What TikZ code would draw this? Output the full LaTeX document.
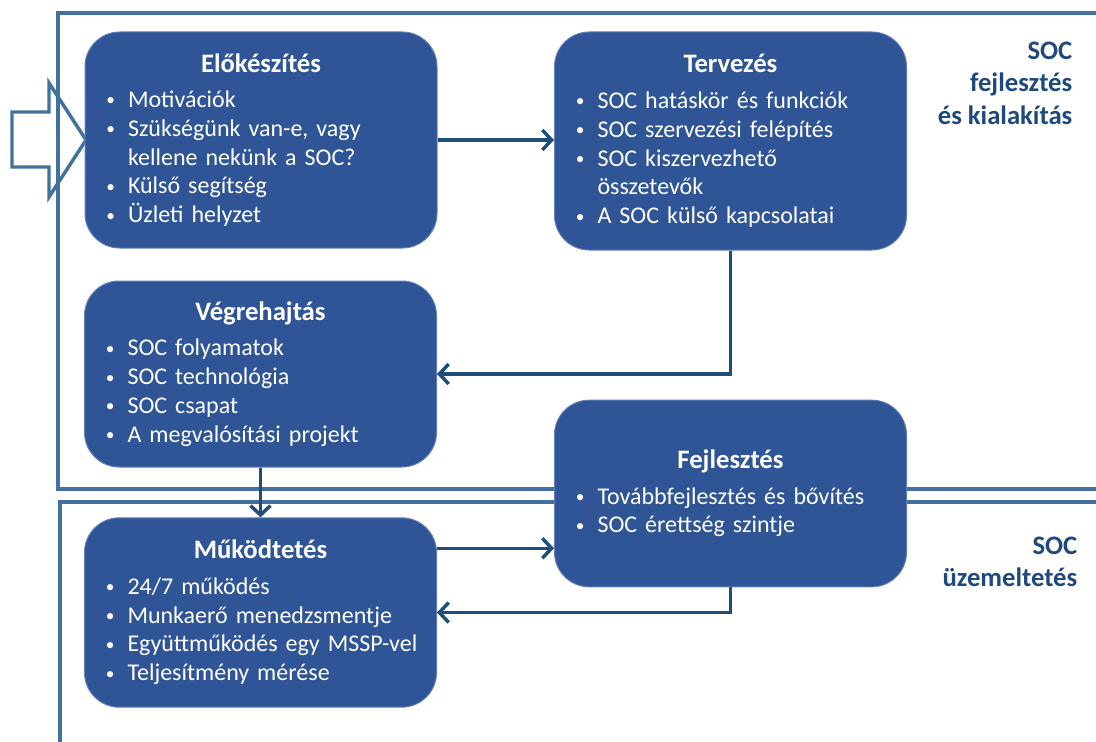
\documentclass[tikz,border=0pt]{standalone}
\usepackage{fontspec}
\setmainfont{Carlito}
\usepackage{xcolor}
\usetikzlibrary{arrows.meta,positioning,calc}

\definecolor{boxblue}{HTML}{2F5597}
\definecolor{boxedge}{HTML}{5F80BA}
\definecolor{linkblue}{HTML}{1F4E79}
\definecolor{frameblue}{HTML}{41719C}
\definecolor{labelblue}{HTML}{1F497D}

\newcommand{\phtitle}[1]{\vspace*{8pt}{\noindent\centering\bfseries\fontsize{20}{24}\selectfont #1\par}\vspace{-3pt}}
\newcommand{\itm}[1]{\par\hangindent=20.25pt\hangafter=1\noindent\makebox[20.25pt][l]{\hspace{4pt}\raisebox{1.2pt}{\fontsize{13}{13}\selectfont\textbullet}}#1}

\begin{document}
\begin{tikzpicture}[x=0.75pt,y=-0.75pt,
  phase/.style={draw=boxedge, line width=0.75pt, fill=boxblue, rounded corners=26pt, text=white, text width=240pt, inner xsep=12pt, align=left, font=\fontsize{18}{21.6}\selectfont},
  link/.style={draw=linkblue, line width=2.6pt, -{Straight Barb[length=7pt,width=15pt]}},
  frame/.style={draw=frameblue, line width=3pt},
  area/.style={text=labelblue, font=\bfseries\fontsize{20}{24.4}\selectfont, align=right, anchor=east}
]
\useasboundingbox (0,0) rectangle (1096,742);
\clip (0,0) rectangle (1096,742);

% the two areas
\draw[frame] (1100,13) -- (58,13) -- (58,489) -- (1100,489);
\draw[frame] (1100,502) -- (60,502) -- (60,750);
\node[area] (devlbl) at (1077,83) {SOC\\fejlesztés\\és kialakítás};
\node[area] (opslbl) at (1082,562) {SOC\\üzemeltetés};

% entry arrow
\draw[frame, line width=2.6pt] (12,112) -- (49,112) -- (49,83) -- (86,140) -- (49,197) -- (49,167) -- (12,167) -- cycle;

\node[phase, minimum height=162pt] (prep) at (261,140) {\phtitle{Előkészítés}
  \itm{Motivációk}
  \itm{Szükségünk van-e, vagy\newline kellene nekünk a SOC?}
  \itm{Külső segítség}
  \itm{Üzleti helyzet}};
\node[phase, minimum height=163.5pt] (plan) at (730.5,141) {\phtitle{Tervezés}
  \itm{SOC hatáskör és funkciók}
  \itm{SOC szervezési felépítés}
  \itm{SOC kiszervezhető\newline összetevők}
  \itm{A SOC külső kapcsolatai}};
\node[phase, minimum height=139.5pt] (exec) at (260.5,374) {\phtitle{Végrehajtás}
  \itm{SOC folyamatok}
  \itm{SOC technológia}
  \itm{SOC csapat}
  \itm{A megvalósítási projekt}};
\node[phase, minimum height=140pt] (dev) at (730.5,493.5) {\phtitle{Fejlesztés}
  \itm{Továbbfejlesztés és bővítés}
  \itm{SOC érettség szintje}};
\node[phase, minimum height=142pt] (ops) at (260.5,612.5) {\phtitle{Működtetés}
  \itm{24/7 működés}
  \itm{Munkaerő menedzsmentje}
  \itm{Együttműködés egy MSSP-vel}
  \itm{Teljesítmény mérése}};

\draw[link] (prep.east) -- (prep.east -| plan.west);
\draw[link] (plan.south) |- (exec.east);
\draw[link] (exec.south) -- (ops.north);
\draw[link] (ops.20) -- (ops.20 -| dev.west);
\draw[link] (dev.south) |- (ops.east);
\end{tikzpicture}
\end{document}
